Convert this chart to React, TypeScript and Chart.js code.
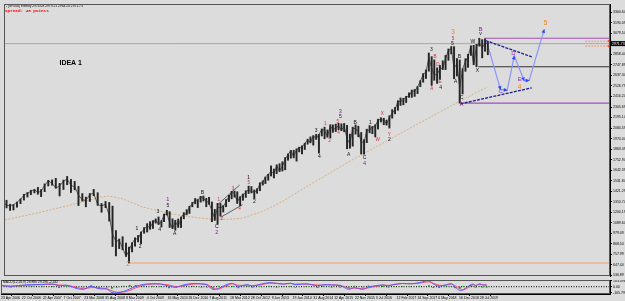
import React, { useEffect, useRef } from "react";
import { Chart, registerables } from "chart.js";

Chart.register(...registerables);

// ====================== DATA ======================
const headerText = "- [SP500] Weekly 2974.08 2979.21 2964.24 2971.73";
const spreadText = "Spread: 48 points";
const ideaText = "IDEA 1";
const ideaDate = "2007-11-13";
const ideaValue = 2771;
const macdHeader = "MACD(12,26,9) 26.880 29.296 -2.432";
const currentPrice = 2971.73;

// time axis: one label every 32 weekly bars
const dateTickLabels = [
  "23 Apr 2006", "22 Oct 2006", "22 Apr 2007", "7 Oct 2007", "23 Mar 2008", "31 Aug 2008",
  "8 Mar 2009", "4 Oct 2009", "16 May 2010", "26 Dec 2010", "7 Aug 2011", "18 Mar 2012",
  "28 Oct 2012", "9 Jun 2013", "19 Jan 2014", "31 Aug 2014", "12 Apr 2015", "22 Nov 2015",
  "3 Jul 2016", "12 Feb 2017", "24 Sep 2017", "6 May 2018", "16 Dec 2018", "28 Jul 2019",
];
const barsPerDateTick = 32;

const priceTickLabels = [
  "536.89", "647.44", "757.99", "868.54", "979.09", "1089.64", "1200.19", "1310.74", "1421.29",
  "1531.84", "1642.39", "1752.94", "1863.49", "1974.04", "2084.59", "2195.14", "2305.69",
  "2416.24", "2526.79", "2637.34", "2747.89", "2858.44", "2968.99", "3079.54", "3190.09", "3300.64",
];
const macdTickValues = [103.096, 0, -105.796];
const macdTickLabels = ["103.096", "0.00", "-105.796"];

// monthly high / low / close of the weekly bars, from Apr 2006
const firstMonth = "2006-04";
const monthHigh = [
  1318, 1326, 1284, 1280, 1306, 1340, 1389, 1407, 1431,
  1441, 1461, 1438, 1498, 1535, 1540, 1556, 1503, 1538, 1576, 1545, 1524,
  1471, 1396, 1359, 1397, 1440, 1405, 1292, 1313, 1303, 1264, 1007, 919,
  943, 876, 833, 880, 930, 956, 993, 1039, 1080, 1101, 1113, 1130,
  1150, 1112, 1180, 1220, 1206, 1131, 1115, 1129, 1150, 1196, 1227, 1263,
  1303, 1345, 1333, 1367, 1371, 1346, 1357, 1308, 1230, 1293, 1292, 1270,
  1334, 1378, 1420, 1422, 1415, 1363, 1392, 1426, 1475, 1470, 1434, 1448,
  1510, 1530, 1570, 1598, 1687, 1654, 1698, 1710, 1730, 1775, 1813, 1849,
  1851, 1867, 1884, 1897, 1925, 1968, 1992, 2005, 2019, 2018, 2075, 2094,
  2065, 2120, 2118, 2126, 2135, 2129, 2133, 2113, 2021, 2094, 2117, 2104,
  2038, 1963, 2073, 2111, 2100, 2120, 2178, 2193, 2188, 2169, 2214, 2278,
  2301, 2372, 2401, 2398, 2418, 2454, 2484, 2491, 2520, 2582, 2657, 2695,
  2873, 2835, 2801, 2718, 2742, 2791, 2848, 2916, 2941, 2940, 2815, 2800,
  2708, 2813, 2860, 2949, 2954, 2964, 3028, 3014, 3022, 2993,
];
const monthLow = [
  1280, 1245, 1219, 1224, 1253, 1290, 1327, 1360, 1385,
  1403, 1389, 1364, 1416, 1476, 1484, 1452, 1371, 1439, 1489, 1407, 1435,
  1270, 1317, 1257, 1313, 1373, 1272, 1200, 1248, 1107, 840, 741, 818,
  805, 735, 667, 783, 843, 888, 869, 979, 992, 1020, 1029, 1086,
  1071, 1045, 1101, 1170, 1040, 1028, 1011, 1040, 1039, 1131, 1173, 1187,
  1257, 1289, 1249, 1306, 1318, 1258, 1283, 1101, 1114, 1075, 1159, 1202,
  1258, 1312, 1341, 1358, 1292, 1267, 1325, 1355, 1397, 1403, 1343, 1399,
  1426, 1485, 1501, 1536, 1581, 1560, 1605, 1627, 1633, 1646, 1746, 1768,
  1771, 1737, 1834, 1814, 1859, 1915, 1930, 1905, 1965, 1821, 2002, 1972,
  1988, 1981, 2040, 2048, 2067, 2057, 2045, 1867, 1872, 1894, 2020, 1993,
  1812, 1810, 1931, 2034, 2025, 1992, 2074, 2148, 2120, 2115, 2084, 2188,
  2234, 2271, 2322, 2329, 2353, 2406, 2407, 2417, 2446, 2520, 2566, 2605,
  2682, 2533, 2586, 2553, 2595, 2699, 2699, 2796, 2864, 2603, 2631, 2347,
  2443, 2681, 2722, 2848, 2750, 2729, 2945, 2822, 2891, 2855,
];
const monthClose = [
  1311, 1270, 1270, 1277, 1304, 1336, 1378, 1401, 1418,
  1438, 1407, 1421, 1482, 1531, 1503, 1455, 1474, 1527, 1549, 1481, 1468,
  1379, 1331, 1323, 1386, 1400, 1280, 1267, 1283, 1166, 969, 896, 903,
  826, 735, 798, 873, 919, 919, 987, 1021, 1057, 1036, 1096, 1115,
  1074, 1104, 1169, 1187, 1089, 1031, 1102, 1049, 1141, 1183, 1181, 1258,
  1286, 1327, 1326, 1364, 1345, 1321, 1292, 1219, 1131, 1253, 1247, 1258,
  1312, 1366, 1408, 1398, 1310, 1362, 1379, 1407, 1441, 1412, 1416, 1426,
  1498, 1515, 1569, 1598, 1631, 1606, 1686, 1633, 1682, 1757, 1806, 1848,
  1783, 1859, 1872, 1884, 1924, 1960, 1931, 2003, 1972, 2018, 2068, 2059,
  1995, 2105, 2068, 2086, 2107, 2063, 2104, 1972, 1920, 2079, 2080, 2044,
  1940, 1932, 2060, 2065, 2097, 2099, 2174, 2171, 2168, 2126, 2199, 2239,
  2279, 2364, 2363, 2384, 2412, 2423, 2470, 2472, 2519, 2575, 2648, 2674,
  2824, 2714, 2641, 2648, 2705, 2718, 2816, 2902, 2914, 2712, 2760, 2507,
  2704, 2784, 2834, 2946, 2752, 2942, 2980, 2926, 2977, 2971,
];

// long moving average (tan)
const maDates = [
  "2006-05-01", "2007-01-25", "2007-11-03", "2008-07-20", "2008-09-15", "2009-01-11",
  "2009-07-26", "2010-05-07", "2010-12-08", "2011-07-12", "2012-02-13", "2012-07-01",
  "2013-02-03", "2013-09-06", "2014-04-07", "2015-09-28", "2017-03-20", "2018-09-08", "2019-10-13",
];
const maValues = [
  1119, 1188, 1273, 1363, 1370, 1342, 1257, 1188, 1154, 1129, 1126, 1137,
  1205, 1308, 1435, 1743, 2031, 2316, 2519,
];

// wave labels
const waveText = [
  "1", "2", "3", "4", "5", "1", "A", "B", "C", "2", "1", "2", "3", "4", "1", "5", "2", "2",
  "3", "4", "1", "2", "4", "3", "5", "5", "B", "A", "1", "W", "X", "C", "4", "Y", "2",
  "A", "E", "4", "D", "B", "3", "3", "5", "5", "B", "A", "C", "A", "W", "B", "v", "X",
  "C", "D", "E", "4", "5",
];
const waveDate = [
  "2009-06-03", "2009-07-07", "2010-01-09", "2010-01-28", "2010-04-25", "2010-04-25",
  "2010-07-07", "2011-05-05", "2011-10-06", "2011-10-06", "2011-10-29", "2011-11-29",
  "2012-03-29", "2012-06-09", "2012-09-16", "2012-09-16", "2012-11-17", "2009-03-06",
  "2014-09-15", "2014-10-21", "2014-12-22", "2015-02-06", "2015-05-15", "2015-06-04",
  "2015-06-04", "2015-05-06", "2015-11-11", "2015-09-01", "2016-04-24", "2016-07-12",
  "2016-08-30", "2016-02-20", "2016-02-20", "2016-11-13", "2016-11-15",
  "2018-02-17", "2018-05-17", "2018-05-24", "2018-04-24", "2018-03-24", "2018-02-13",
  "2018-10-03", "2018-10-03", "2018-09-27", "2018-12-13", "2018-11-01", "2019-01-05",
  "2019-01-05", "2019-05-06", "2019-07-28", "2019-07-28", "2019-06-24",
  "2020-03-03", "2020-07-19", "2020-09-23", "2020-09-23", "2021-06-29",
];
const waveValue = [
  1023, 838, 1205, 1016, 1273, 1335, 975, 1411, 1044, 990, 1335, 1129, 1452, 1239, 1561, 1510, 1314, 650,
  2055, 1787, 2131, 1952, 2034, 2257, 2206, 2154, 2144, 1802, 2144, 1966, 2233, 1771, 1712, 2010, 1959,
  2501, 2576, 2514, 2747, 2833, 2908, 3090, 3028, 2969, 2840, 2569, 2404, 2336, 2994, 3124, 3072, 2689,
  2470, 2874, 2593, 2514, 3185,
];
// k = minute (black), r = minuette (red), p = intermediate (purple), o = primary (orange), v = projected
const waveDegree = [
  "k", "k", "k", "k", "k", "p", "k", "k", "k", "p", "r", "r", "r", "r", "k", "r", "k", "o",
  "k", "k", "r", "r", "r", "p", "k", "r", "k", "k", "k", "r", "r", "k", "p", "r", "k",
  "r", "r", "k", "r", "r", "k", "o", "r", "k", "k", "k", "k", "p", "k", "p", "k", "k",
  "v", "v", "v", "o", "o",
];

// projected path
const projDates = ["2019-10-01", "2020-03-01", "2020-05-12", "2020-07-27", "2020-11-11", "2021-01-04", "2021-06-16"];
const projValues = [2997, 2488, 2483, 2843, 2581, 2586, 3121];

// triangle boundaries
const triUpperDates = ["2019-09-21", "2021-02-01"];
const triUpperValues = [3004, 2833];
const triLowerDates = ["2018-12-24", "2021-02-01"];
const triLowerValues = [2339, 2507];

// 2011-2012 wedge
const wedgeUpperDates = ["2011-10-17", "2012-06-09"];
const wedgeUpperValues = [1280, 1486];
const wedgeLowerDates = ["2011-11-18", "2012-07-11"];
const wedgeLowerValues = [1147, 1280];

// horizontal levels
const levelStart = ["2009-03-06", "2018-12-26", "2019-07-05", "2019-09-11"];
const levelValue = [666.79, 2346.58, 2728.81, 3027.98];
const levelKind = ["orange", "purple", "black", "purple"];

// short order lines at the right edge
const orderLineStart = "2022-09-04";
const orderLineValues = [2997, 2946];

// MACD
const macdDates = [
  "2006-04-15", "2006-07-15", "2006-10-15", "2007-01-15", "2007-04-15", "2007-07-15", "2007-09-01",
  "2007-11-01", "2008-01-15", "2008-03-15", "2008-05-15", "2008-07-15", "2008-09-15", "2008-11-01",
  "2008-12-15", "2009-02-15", "2009-04-15", "2009-06-15", "2009-09-01", "2009-12-01", "2010-03-01",
  "2010-06-01", "2010-08-15", "2010-11-01", "2011-02-15", "2011-05-15", "2011-07-15", "2011-09-15",
  "2011-11-15", "2012-02-15", "2012-04-15", "2012-06-15", "2012-09-15", "2012-11-15", "2013-02-15",
  "2013-05-15", "2013-08-01", "2013-10-15", "2014-01-01", "2014-02-15", "2014-06-15", "2014-10-15",
  "2014-12-15", "2015-03-15", "2015-06-15", "2015-09-15", "2015-11-15", "2016-02-15", "2016-04-15",
  "2016-07-15", "2016-09-15", "2016-11-15", "2017-01-15", "2017-04-15", "2017-07-15", "2017-10-15",
  "2018-01-26", "2018-03-15", "2018-05-15", "2018-08-01", "2018-09-25", "2018-11-01", "2018-12-24",
  "2019-02-01", "2019-04-15", "2019-05-20", "2019-06-10", "2019-07-26", "2019-08-25", "2019-10-10",
];
const macdMain = [
  24, 5, 25, 35, 40, 45, 15, 25, -25, -45, 5, -35, -40, -100, -105, -80, -40, 5, 40, 50, 45,
  10, -10, 30, 55, 45, 30, -45, -30, 40, 55, 5, 35, 10, 45, 70, 55, 45, 60, 35, 50, 15,
  35, 30, 20, -45, -15, -45, -5, 20, 30, 15, 40, 55, 50, 70, 103, 45, 10, 35, 50, 0, -65,
  -50, 30, 45, 15, 50, 30, 27,
];
const macdSignal = [
  20, 12, 18, 30, 35, 42, 30, 22, -5, -35, -15, -20, -35, -70, -95, -90, -65, -20, 25, 45, 45,
  30, 0, 15, 45, 50, 40, -20, -40, 20, 50, 25, 25, 20, 35, 60, 60, 45, 55, 45, 45, 30,
  30, 32, 25, -25, -25, -35, -20, 10, 28, 22, 35, 55, 50, 60, 85, 60, 25, 25, 45, 20, -35,
  -55, 5, 35, 25, 40, 35, 29,
];

// ====================== STYLE / LAYOUT ======================
const BG = "#dcdcdc";
const FONT = "'Liberation Sans', Arial, sans-serif";
const X_MIN = 0;
const X_MAX = 936;
const Y_MIN = 530;
const Y_MAX = 3388;
const M_MIN = -125;
const M_MAX = 115;
const AXIS_W = 15;

const DEGREE_STYLE: Record<string, { color: string; font: string }> = {
  k: { color: "#111111", font: `5px ${FONT}` },
  r: { color: "#c8323c", font: `4.6px ${FONT}` },
  p: { color: "#8a1c8a", font: `5.6px ${FONT}` },
  o: { color: "#f07f1c", font: `6.4px ${FONT}` },
  v: { color: "#9a28c0", font: `6px ${FONT}` },
};
const LEVEL_COLOR: Record<string, string> = {
  orange: "#f0a070",
  purple: "#a050b8",
  black: "#303030",
};

// ====================== HELPERS ======================
const DAY = 86400000;
const WEEK = 7 * DAY;
const MON: Record<string, number> = {
  Jan: 0, Feb: 1, Mar: 2, Apr: 3, May: 4, Jun: 5, Jul: 6, Aug: 7, Sep: 8, Oct: 9, Nov: 10, Dec: 11,
};
const parseTickDate = (s: string) => {
  const [d, m, y] = s.split(" ");
  return Date.UTC(+y, MON[m], +d);
};
const parseIso = (s: string) => {
  const [y, m, d] = s.split("-").map(Number);
  return Date.UTC(y, m - 1, d || 15);
};
const tickTimes = dateTickLabels.map(parseTickDate);

// position on the bar axis for a calendar time, via the labelled bars
function barOf(t: number): number {
  const n = tickTimes.length;
  if (t <= tickTimes[1]) {
    return (barsPerDateTick * (t - tickTimes[0])) / (tickTimes[1] - tickTimes[0]);
  }
  for (let i = 1; i < n - 1; i++) {
    if (t <= tickTimes[i + 1]) {
      return barsPerDateTick * (i + (t - tickTimes[i]) / (tickTimes[i + 1] - tickTimes[i]));
    }
  }
  return barsPerDateTick * (n - 1) + (t - tickTimes[n - 1]) / WEEK;
}
const bx = (iso: string) => barOf(parseIso(iso));
const pts = (dates: string[], vals: number[]) => dates.map((d, i) => ({ x: bx(d), y: vals[i] }));

const [fy, fm] = firstMonth.split("-").map(Number);
const monthX = monthHigh.map((_h, i) => barOf(Date.UTC(fy, fm - 1 + i, 15)));
const priceBars = monthHigh.map((h, i) => ({ x: monthX[i], y: [monthLow[i], h] }));
const closePts = monthClose.map((c, i) => ({ x: monthX[i], y: c }));

const zeroPad = (s: any) => {
  s.paddingTop = 0;
  s.paddingBottom = 0;
  s.paddingLeft = 0;
  s.paddingRight = 0;
};

const lineDs = (data: any[], color: string, width: number, order: number, dash: number[] = []) => ({
  type: "line" as const,
  data,
  borderColor: color,
  borderWidth: width,
  borderDash: dash,
  pointRadius: 0,
  tension: 0,
  fill: false,
  order,
});

// ====================== CHARTS ======================
function mainConfig(): any {
  const datasets: any[] = [];
  datasets.push({
    type: "bar",
    data: priceBars,
    backgroundColor: "#262626",
    borderWidth: 0,
    barThickness: 1.3,
    order: 1,
  });
  datasets.push(lineDs(closePts, "#3a3a3a", 0.8, 2));
  datasets.push(lineDs([{ x: X_MIN, y: currentPrice }, { x: X_MAX, y: currentPrice }], "#a8a8a8", 1, 20));
  levelStart.forEach((d, i) => {
    datasets.push(
      lineDs([{ x: bx(d), y: levelValue[i] }, { x: X_MAX, y: levelValue[i] }], LEVEL_COLOR[levelKind[i]], 1.2, 15)
    );
  });
  orderLineValues.forEach((v) => {
    datasets.push({
      ...lineDs([{ x: bx(orderLineStart), y: v }, { x: X_MAX - 1.5, y: v }], "#f08050", 1, 14, [1.5, 1.5]),
      pointRadius: [0, 1.6],
      pointStyle: "rect",
      pointBackgroundColor: "#f06020",
      pointBorderWidth: 0,
    });
  });
  datasets.push(lineDs(pts(maDates, maValues), "#d6b07a", 1, 12, [2, 1.5]));
  datasets.push(lineDs(pts(wedgeUpperDates, wedgeUpperValues), "#404040", 0.8, 10));
  datasets.push(lineDs(pts(wedgeLowerDates, wedgeLowerValues), "#404040", 0.8, 10));
  datasets.push(lineDs(pts(triUpperDates, triUpperValues), "#1c1c8c", 1.3, 9, [3, 1.2]));
  datasets.push(lineDs(pts(triLowerDates, triLowerValues), "#1c1c8c", 1.3, 9, [3, 1.2]));
  const projIndex = datasets.length;
  datasets.push(lineDs(pts(projDates, projValues), "#8c94ff", 1.2, 8));

  const decor = {
    id: "mainDecor",
    afterDatasetsDraw(chart: any) {
      const { ctx, chartArea: a } = chart;
      const xs = chart.scales.x;
      const ys = chart.scales.y;
      ctx.save();
      ctx.beginPath();
      ctx.rect(a.left, a.top, a.right - a.left, a.bottom - a.top);
      ctx.clip();
      // arrow heads on the projected path
      const meta = chart.getDatasetMeta(projIndex);
      const p = meta.data;
      ctx.fillStyle = "#2c44ff";
      for (let i = 1; i < p.length; i++) {
        const ang = Math.atan2(p[i].y - p[i - 1].y, p[i].x - p[i - 1].x);
        ctx.save();
        ctx.translate(p[i].x, p[i].y);
        ctx.rotate(ang);
        ctx.beginPath();
        ctx.moveTo(0.5, 0);
        ctx.lineTo(-3.5, -1.8);
        ctx.lineTo(-3.5, 1.8);
        ctx.closePath();
        ctx.fill();
        ctx.restore();
      }
      // wave labels
      ctx.textAlign = "center";
      ctx.textBaseline = "middle";
      waveText.forEach((t, i) => {
        const st = DEGREE_STYLE[waveDegree[i]];
        ctx.font = st.font;
        ctx.fillStyle = st.color;
        ctx.fillText(t, xs.getPixelForValue(bx(waveDate[i])), ys.getPixelForValue(waveValue[i]));
      });
      ctx.font = `bold 7px ${FONT}`;
      ctx.fillStyle = "#000";
      ctx.fillText(ideaText, xs.getPixelForValue(bx(ideaDate)), ys.getPixelForValue(ideaValue));
      // header
      ctx.textAlign = "left";
      ctx.font = `3.3px ${FONT}`;
      ctx.fillStyle = "#000";
      ctx.fillText(headerText, a.left + 2, a.top + 2.5);
      ctx.font = `bold 4.3px 'Liberation Mono', 'Courier New', monospace`;
      ctx.fillStyle = "#ff0000";
      ctx.fillText(spreadText, a.left + 1, a.top + 6.5);
      ctx.restore();
    },
    afterDraw(chart: any) {
      const { ctx, chartArea: a } = chart;
      const ys = chart.scales.y;
      ctx.save();
      ctx.strokeStyle = "#555";
      ctx.lineWidth = 1;
      ctx.strokeRect(a.left + 0.5, a.top + 0.5, a.right - a.left - 1, a.bottom - a.top - 1);
      const y = ys.getPixelForValue(currentPrice);
      ctx.fillStyle = "#000";
      ctx.fillRect(a.right + 1, y - 2.5, 14, 5);
      ctx.fillStyle = "#fff";
      ctx.font = `3.5px ${FONT}`;
      ctx.textAlign = "left";
      ctx.textBaseline = "middle";
      ctx.fillText(currentPrice.toFixed(2), a.right + 2, y);
      ctx.restore();
    },
  };

  return {
    type: "bar",
    data: { datasets },
    options: {
      animation: false,
      responsive: false,
      devicePixelRatio: 1,
      events: [],
      layout: { padding: { left: 1, top: 1, right: 0, bottom: 1 } },
      plugins: { legend: { display: false }, tooltip: { enabled: false } },
      scales: {
        x: { type: "linear", min: X_MIN, max: X_MAX, display: false, offset: false },
        y: {
          type: "linear",
          position: "right",
          min: Y_MIN,
          max: Y_MAX,
          afterBuildTicks: (s: any) => {
            s.ticks = priceTickLabels.map((l) => ({ value: Number(l) }));
          },
          afterFit: (s: any) => {
            s.width = AXIS_W;
            zeroPad(s);
          },
          ticks: {
            autoSkip: false,
            padding: 1,
            color: "#000",
            font: { size: 3.5, family: FONT, lineHeight: 1 },
            callback: (_v: any, i: number) => priceTickLabels[i],
          },
          grid: { drawOnChartArea: false, tickLength: 2, color: "#000" },
          border: { color: "#000" },
        },
      },
    },
    plugins: [decor],
  };
}

function macdConfig(): any {
  const mainPts = pts(macdDates, macdMain);
  const sigPts = pts(macdDates, macdSignal);
  const hist = macdDates.map((d, i) => ({ x: bx(d), y: macdMain[i] - macdSignal[i] }));
  const decor = {
    id: "macdDecor",
    afterDraw(chart: any) {
      const { ctx, chartArea: a } = chart;
      ctx.save();
      ctx.strokeStyle = "#555";
      ctx.lineWidth = 1;
      ctx.strokeRect(a.left + 0.5, a.top + 0.5, a.right - a.left - 1, a.bottom - a.top - 1);
      ctx.font = `3.3px ${FONT}`;
      ctx.fillStyle = "#000";
      ctx.textAlign = "left";
      ctx.textBaseline = "middle";
      ctx.fillText(macdHeader, a.left + 2, a.top + 2.5);
      ctx.restore();
    },
  };
  return {
    type: "bar",
    data: {
      datasets: [
        { type: "bar", data: hist, backgroundColor: "#10a010", barThickness: 1.2, order: 5 },
        lineDs([{ x: X_MIN, y: 0 }, { x: X_MAX, y: 0 }], "#000", 1, 6, [1, 1.5]),
        { ...lineDs(sigPts, "#ff4a7a", 1, 3), tension: 0.3 },
        { ...lineDs(mainPts, "#5858ff", 1, 2), tension: 0.3 },
      ],
    },
    options: {
      animation: false,
      responsive: false,
      devicePixelRatio: 1,
      events: [],
      layout: { padding: { left: 1, top: 0, right: 0, bottom: 0 } },
      plugins: { legend: { display: false }, tooltip: { enabled: false } },
      scales: {
        x: {
          type: "linear",
          min: X_MIN,
          max: X_MAX,
          offset: false,
          position: "bottom",
          afterBuildTicks: (s: any) => {
            s.ticks = dateTickLabels.map((_l, i) => ({ value: i * barsPerDateTick }));
          },
          afterFit: (s: any) => {
            s.height = 7;
            zeroPad(s);
          },
          ticks: {
            autoSkip: false,
            maxRotation: 0,
            minRotation: 0,
            align: "start",
            padding: 0.5,
            color: "#000",
            font: { size: 3.5, family: FONT, lineHeight: 1 },
            callback: (_v: any, i: number) => dateTickLabels[i],
          },
          grid: { drawOnChartArea: false, tickLength: 2, color: "#000" },
          border: { color: "#000" },
        },
        y: {
          type: "linear",
          position: "right",
          min: M_MIN,
          max: M_MAX,
          afterBuildTicks: (s: any) => {
            s.ticks = macdTickValues.map((v) => ({ value: v }));
          },
          afterFit: (s: any) => {
            s.width = AXIS_W;
            zeroPad(s);
          },
          ticks: {
            autoSkip: false,
            padding: 1,
            color: "#000",
            font: { size: 3.5, family: FONT, lineHeight: 1 },
            callback: (_v: any, i: number) => macdTickLabels[i],
          },
          grid: { drawOnChartArea: false, tickLength: 2, color: "#000" },
          border: { color: "#000" },
        },
      },
    },
    plugins: [decor],
  };
}

export default function App() {
  const mainRef = useRef<HTMLCanvasElement>(null);
  const macdRef = useRef<HTMLCanvasElement>(null);
  useEffect(() => {
    const c1 = new Chart(mainRef.current as HTMLCanvasElement, mainConfig());
    const c2 = new Chart(macdRef.current as HTMLCanvasElement, macdConfig());
    return () => {
      c1.destroy();
      c2.destroy();
    };
  }, []);
  return (
    <div
      style={{
        position: "fixed",
        left: 0,
        top: 0,
        width: 625,
        height: 301,
        background: BG,
        overflow: "hidden",
      }}
    >
      <canvas
        ref={mainRef}
        width={625}
        height={280}
        style={{ position: "absolute", left: 0, top: 0, width: 625, height: 280, display: "block" }}
      />
      <canvas
        ref={macdRef}
        width={625}
        height={21}
        style={{ position: "absolute", left: 0, top: 280, width: 625, height: 21, display: "block" }}
      />
    </div>
  );
}
